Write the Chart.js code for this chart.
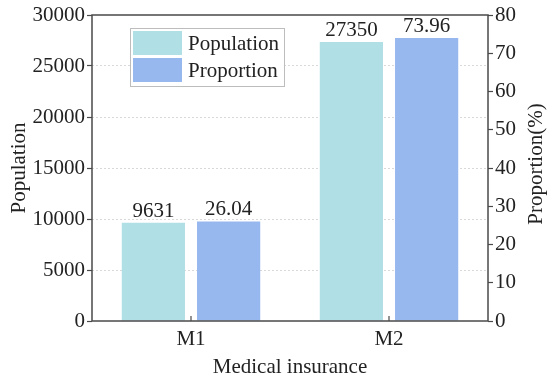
<!DOCTYPE html>
<html>
<head>
<meta charset="utf-8">
<script src="https://cdn.jsdelivr.net/npm/chart.js@4/dist/chart.umd.min.js"></script>
<style>
  html, body { margin: 0; padding: 0; background: #ffffff; }
  #wrap { width: 547px; height: 383px; }
</style>
</head>
<body>
<div id="wrap"><canvas id="chart" width="547" height="383"></canvas></div>
<script>
// Categories and series
const categories = ['M1', 'M2'];
const populationValues = [9631, 27350];
const proportionValues = [26.04, 73.96];

// Axis tick values
const populationTicks = [0, 5000, 10000, 15000, 20000, 25000, 30000];
const proportionTicks = [0, 10, 20, 30, 40, 50, 60, 70, 80];

const FONT_FAMILY = "'Liberation Serif', 'Times New Roman', serif";
const FONT_SIZE = 21;
const TEXT_COLOR = '#222222';
const FRAME_COLOR = '#4a4a4a';

// Frame around the plot area, plus short inward tick marks on the category axis
const framePlugin = {
  id: 'frame',
  afterDatasetsDraw(chart) {
    const { ctx, chartArea: a } = chart;
    ctx.save();
    ctx.strokeStyle = FRAME_COLOR;
    ctx.lineWidth = 1.5;
    ctx.strokeRect(a.left, a.top, a.right - a.left, a.bottom - a.top);
    const xs = chart.scales.x;
    ctx.lineWidth = 1.2;
    xs.ticks.forEach((t, i) => {
      const px = xs.getPixelForTick(i);
      ctx.beginPath();
      ctx.moveTo(px, a.bottom);
      ctx.lineTo(px, a.bottom - 5);
      ctx.stroke();
    });
    ctx.restore();
  }
};

// Value printed above each bar
const valueLabelPlugin = {
  id: 'valueLabels',
  afterDatasetsDraw(chart) {
    const { ctx } = chart;
    ctx.save();
    ctx.font = FONT_SIZE + 'px ' + FONT_FAMILY;
    ctx.fillStyle = TEXT_COLOR;
    ctx.textAlign = 'center';
    ctx.textBaseline = 'bottom';
    chart.data.datasets.forEach((ds, di) => {
      const meta = chart.getDatasetMeta(di);
      meta.data.forEach((bar, i) => {
        const v = ds.data[i];
        const txt = ds.decimals ? v.toFixed(ds.decimals) : String(v);
        ctx.fillText(txt, bar.x, bar.y - 1);
      });
    });
    ctx.restore();
  }
};

// Boxed legend inside the plot, upper left
const boxLegendPlugin = {
  id: 'boxLegend',
  afterDraw(chart) {
    const { ctx } = chart;
    const x0 = 130, y0 = 28, w = 154, h = 58;
    ctx.save();
    ctx.fillStyle = '#ffffff';
    ctx.fillRect(x0, y0, w, h);
    ctx.strokeStyle = '#bdbdbd';
    ctx.lineWidth = 1;
    ctx.strokeRect(x0 + 0.5, y0 + 0.5, w, h);
    ctx.font = FONT_SIZE + 'px ' + FONT_FAMILY;
    ctx.textAlign = 'left';
    ctx.textBaseline = 'middle';
    chart.data.datasets.forEach((ds, i) => {
      const sy = y0 + 3 + i * 27;
      ctx.fillStyle = ds.backgroundColor;
      ctx.fillRect(x0 + 3, sy, 49, 24);
      ctx.fillStyle = TEXT_COLOR;
      ctx.fillText(ds.label, x0 + 58, sy + 13);
    });
    ctx.restore();
  }
};

// Right-axis title, reading bottom to top
const rightTitlePlugin = {
  id: 'rightTitle',
  afterDraw(chart) {
    const { ctx, chartArea: a } = chart;
    const txt = chart.options.scales.y1.customTitle;
    ctx.save();
    ctx.font = FONT_SIZE + 'px ' + FONT_FAMILY;
    ctx.fillStyle = TEXT_COLOR;
    ctx.textAlign = 'center';
    ctx.textBaseline = 'middle';
    ctx.translate(536, (a.top + a.bottom) / 2 - 4);
    ctx.rotate(-Math.PI / 2);
    ctx.fillText(txt, 0, 0);
    ctx.restore();
  }
};

const tickFont = { family: FONT_FAMILY, size: FONT_SIZE };
const plainNumber = (v) => String(v);

new Chart(document.getElementById('chart'), {
  type: 'bar',
  data: {
    labels: categories,
    datasets: [
      {
        label: 'Population',
        data: populationValues,
        backgroundColor: '#b0dfe5',
        yAxisID: 'y',
        categoryPercentage: 0.76,
        barPercentage: 0.84
      },
      {
        label: 'Proportion',
        data: proportionValues,
        decimals: 2,
        backgroundColor: '#97b7ef',
        yAxisID: 'y1',
        categoryPercentage: 0.76,
        barPercentage: 0.84
      }
    ]
  },
  options: {
    responsive: false,
    animation: false,
    devicePixelRatio: 1,
    layout: { padding: { top: 15, left: 0, right: 0, bottom: 0 } },
    plugins: {
      legend: { display: false },
      tooltip: { enabled: false }
    },
    scales: {
      x: {
        border: { display: false },
        grid: { display: false },
        ticks: { font: tickFont, color: TEXT_COLOR, padding: -2 },
        title: {
          display: true,
          text: 'Medical insurance',
          font: tickFont,
          color: TEXT_COLOR,
          padding: { top: 0, bottom: 3 }
        },
        afterFit(s) { s.height = 62; }
      },
      y: {
        position: 'left',
        min: 0,
        max: 30000,
        afterBuildTicks(s) { s.ticks = populationTicks.map(v => ({ value: v })); },
        border: { display: false, dash: [2, 2] },
        grid: {
          color: (c) => (c.tick && (c.tick.value === 0 || c.tick.value === 30000)) ? 'rgba(0,0,0,0)' : '#d9d9d9',
          lineWidth: 1,
          tickLength: 5,
          tickColor: FRAME_COLOR,
          tickBorderDash: [],
          tickWidth: 1.2
        },
        ticks: { font: tickFont, color: TEXT_COLOR, padding: 2, callback: plainNumber },
        title: {
          display: true,
          text: 'Population',
          font: tickFont,
          color: TEXT_COLOR,
          padding: { top: 7, bottom: 0 }
        },
        afterFit(s) { s.width = 92; }
      },
      y1: {
        position: 'right',
        min: 0,
        max: 80,
        afterBuildTicks(s) { s.ticks = proportionTicks.map(v => ({ value: v })); },
        customTitle: 'Proportion(%)',
        border: { display: false },
        grid: {
          drawOnChartArea: false,
          tickLength: 5,
          tickColor: FRAME_COLOR,
          tickWidth: 1.2
        },
        ticks: { font: tickFont, color: TEXT_COLOR, padding: 2, callback: plainNumber },
        afterFit(s) { s.width = 59; }
      }
    }
  },
  plugins: [framePlugin, valueLabelPlugin, boxLegendPlugin, rightTitlePlugin]
});
</script>
</body>
</html>
